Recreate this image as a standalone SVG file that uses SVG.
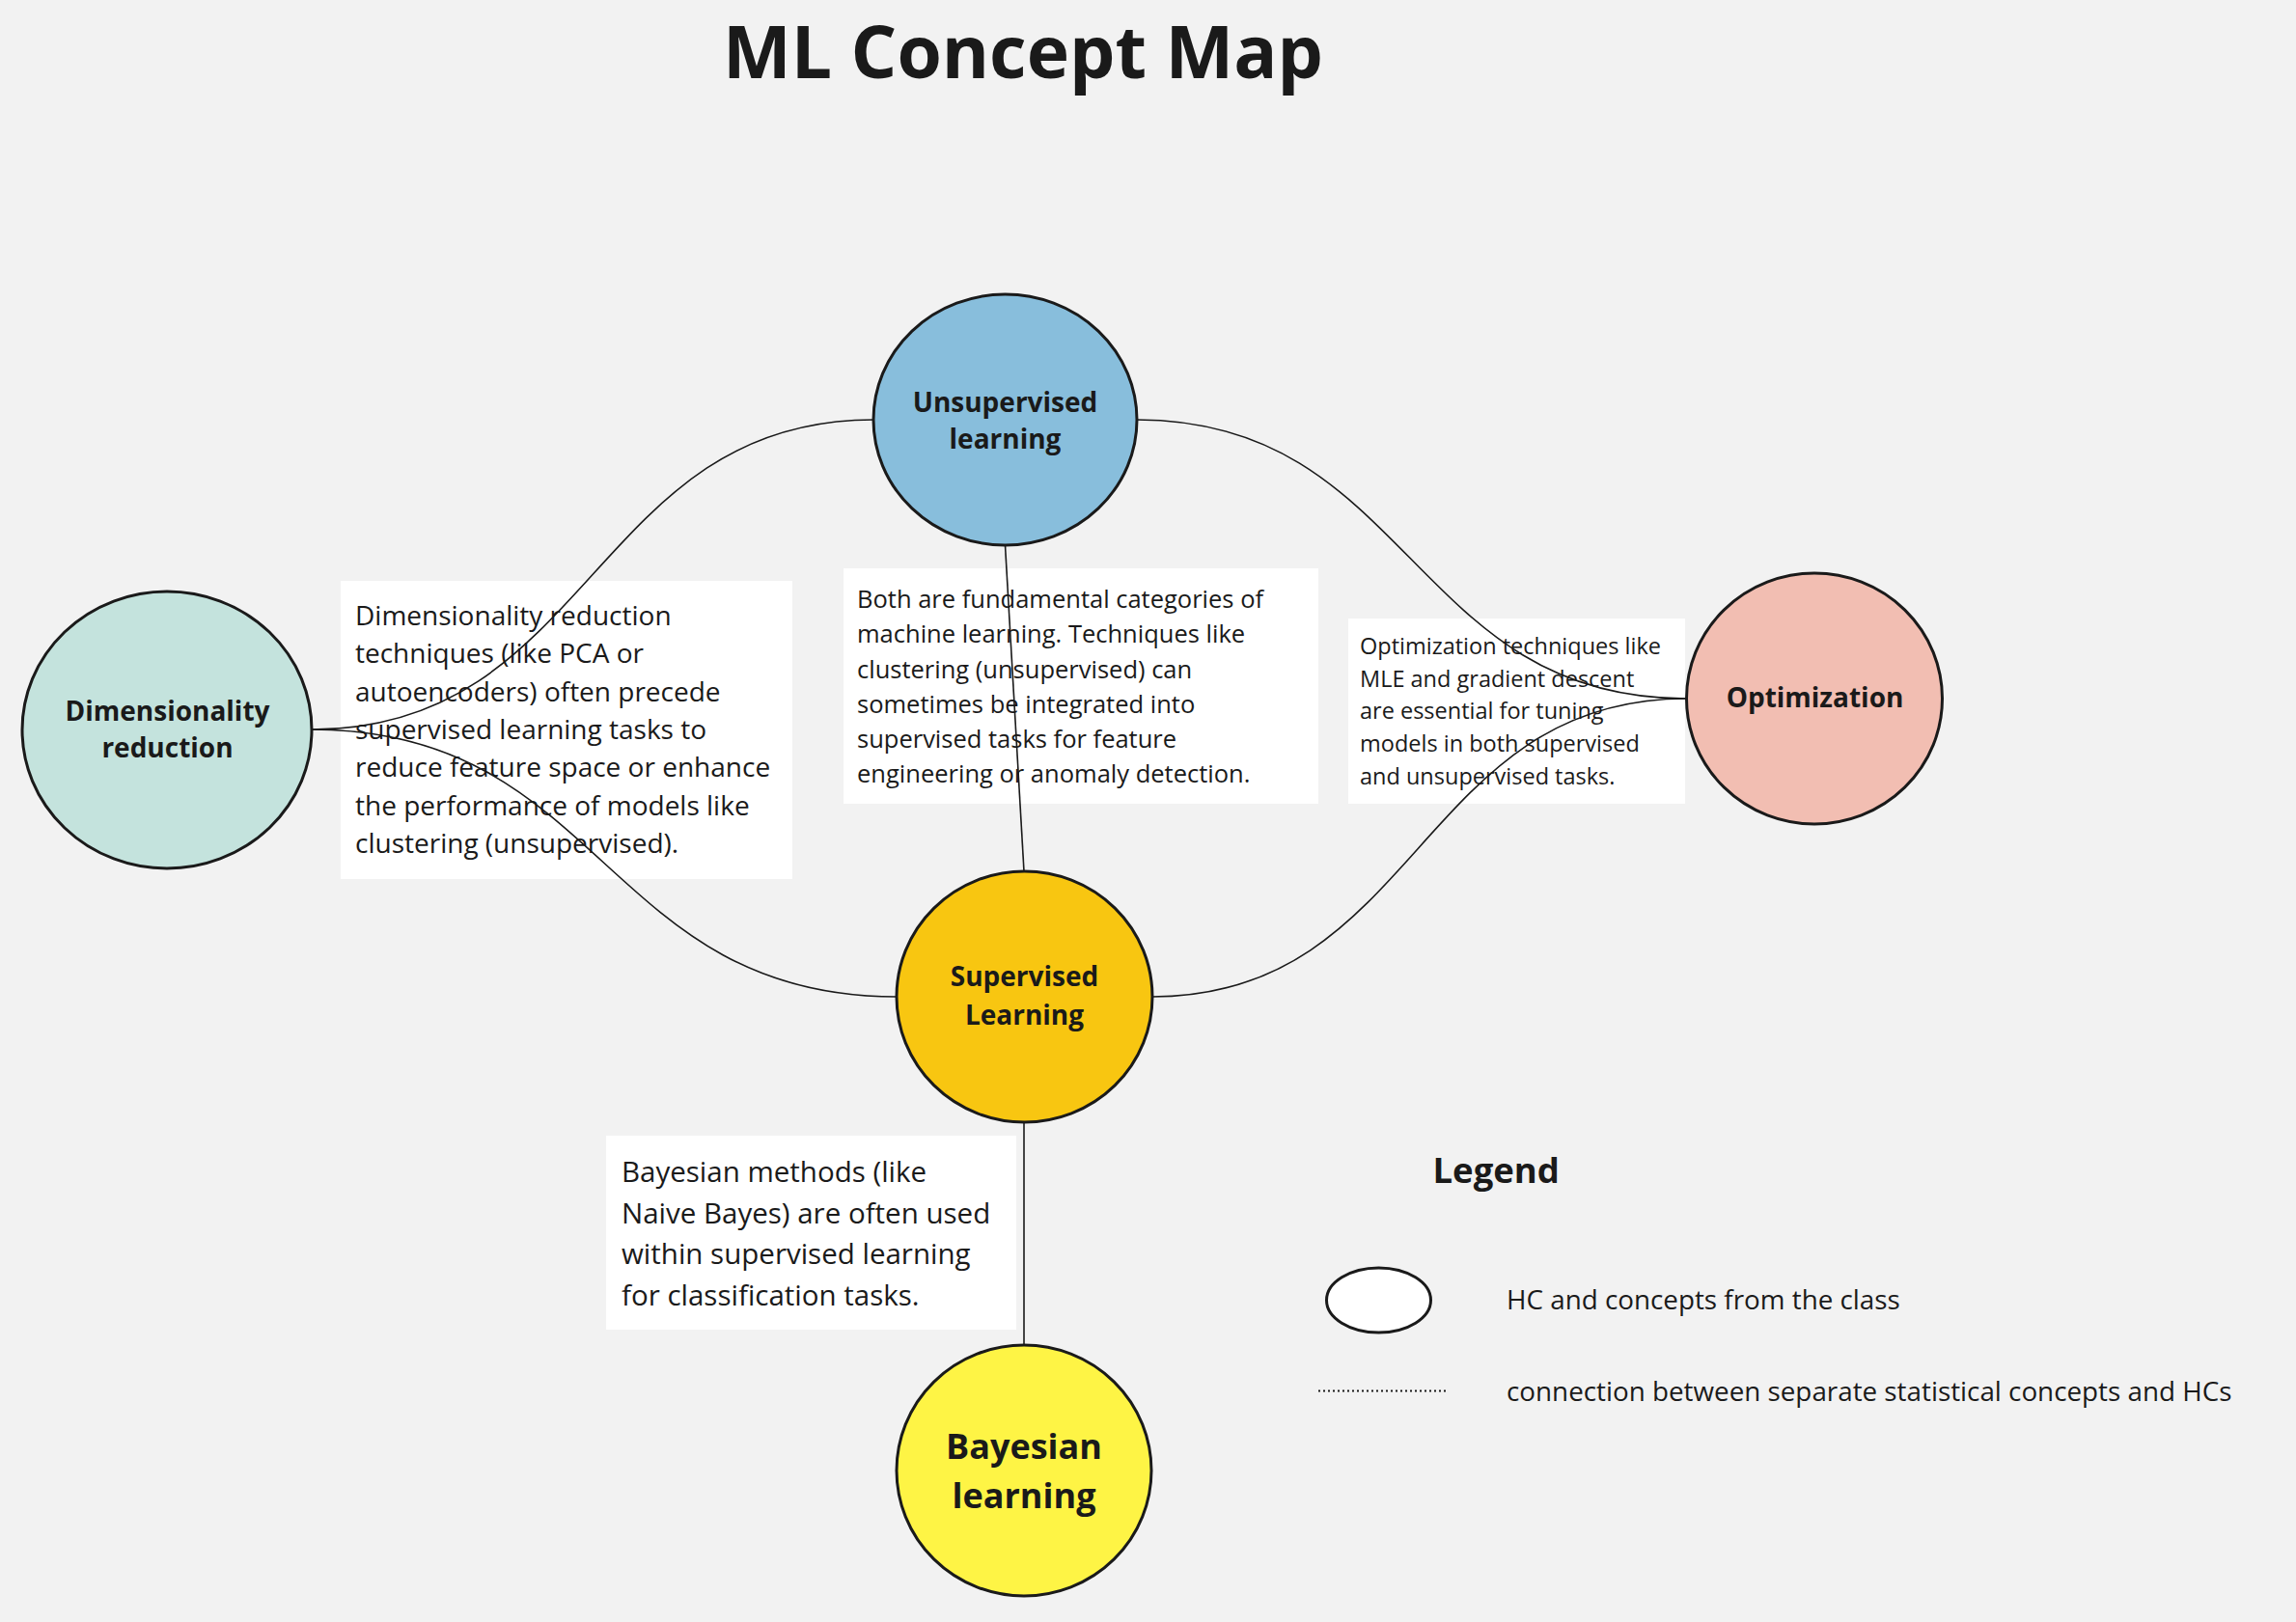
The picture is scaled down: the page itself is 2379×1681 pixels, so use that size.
<svg xmlns="http://www.w3.org/2000/svg" width="2379" height="1681" viewBox="0 0 2379 1681">
<style>
text{font-family:"Open Sans","Noto Sans","Liberation Sans",sans-serif;fill:#1a1a1a}
.title{font-size:75px;font-weight:700;text-anchor:middle}
.lbl{font-size:28px;font-weight:700;text-anchor:middle}
.big{font-size:36px}
.node{stroke:#1a1a1a;stroke-width:3}
.box{fill:#ffffff}
.conn{fill:none;stroke:#1a1a1a;stroke-width:1.6}
</style>
<rect x="0" y="0" width="2379" height="1681" fill="#f2f2f2"/>
<text class="title" x="1060" y="81">ML Concept Map</text>

<g id="notes">
<g id="note-dim">
<rect class="box" x="353" y="602" width="468" height="309"/>
<text font-size="28" x="368" y="648">Dimensionality reduction</text>
<text font-size="28" x="368" y="687.3">techniques (like PCA or</text>
<text font-size="28" x="368" y="726.7">autoencoders) often precede</text>
<text font-size="28" x="368" y="766">supervised learning tasks to</text>
<text font-size="28" x="368" y="805">reduce feature space or enhance</text>
<text font-size="28" x="368" y="845">the performance of models like</text>
<text font-size="28" x="368" y="884">clustering (unsupervised).</text>
</g>
<g id="note-both">
<rect class="box" x="874" y="589" width="492" height="244"/>
<text font-size="25.5" x="888" y="630">Both are fundamental categories of</text>
<text font-size="25.5" x="888" y="666">machine learning. Techniques like</text>
<text font-size="25.5" x="888" y="702.5">clustering (unsupervised) can</text>
<text font-size="25.5" x="888" y="738.5">sometimes be integrated into</text>
<text font-size="25.5" x="888" y="775">supervised tasks for feature</text>
<text font-size="25.5" x="888" y="810.5">engineering or anomaly detection.</text>
</g>
<g id="note-opt">
<rect class="box" x="1397" y="641" width="349" height="192"/>
<text font-size="23.5" x="1409" y="678.3">Optimization techniques like</text>
<text font-size="23.5" x="1409" y="711.7">MLE and gradient descent</text>
<text font-size="23.5" x="1409" y="745">are essential for tuning</text>
<text font-size="23.5" x="1409" y="779.3">models in both supervised</text>
<text font-size="23.5" x="1409" y="812.7">and unsupervised tasks.</text>
</g>
<g id="note-bayes">
<rect class="box" x="628" y="1177" width="425" height="201"/>
<text font-size="29.5" x="644" y="1225">Bayesian methods (like</text>
<text font-size="29.5" x="644" y="1268.3">Naive Bayes) are often used</text>
<text font-size="29.5" x="644" y="1310">within supervised learning</text>
<text font-size="29.5" x="644" y="1353.3">for classification tasks.</text>
</g>
</g>

<g id="connectors">
<path class="conn" d="M323 756 C614 756 614 435 905 435"/>
<path class="conn" d="M323 756 C626 756 626 1033 929 1033"/>
<path class="conn" d="M1178 435 C1462 435 1462 724 1747 724"/>
<path class="conn" d="M1194 1033 C1470 1033 1470 724 1747 724"/>
<path class="conn" d="M1041.5 565 L1061 903"/>
<path class="conn" d="M1061 1163 L1061 1394"/>
</g>

<g id="node-unsupervised">
<ellipse class="node" cx="1041.5" cy="435" rx="136.5" ry="130" fill="#88bedc"/>
<text class="lbl" x="1041.5" y="427">Unsupervised</text>
<text class="lbl" x="1041.5" y="465">learning</text>
</g>
<g id="node-supervised">
<ellipse class="node" cx="1061.5" cy="1033" rx="132.5" ry="130" fill="#f8c611"/>
<text class="lbl" x="1061.5" y="1022">Supervised</text>
<text class="lbl" x="1061.5" y="1062">Learning</text>
</g>
<g id="node-bayesian">
<ellipse class="node" cx="1061" cy="1524" rx="132" ry="130" fill="#fef445"/>
<text class="lbl big" x="1061" y="1512">Bayesian</text>
<text class="lbl big" x="1061" y="1563">learning</text>
</g>
<g id="node-dimensionality">
<ellipse class="node" cx="173" cy="756.5" rx="150" ry="143.5" fill="#c4e3dd"/>
<text class="lbl" x="173.5" y="747">Dimensionality</text>
<text class="lbl" x="173.5" y="785">reduction</text>
</g>
<g id="node-optimization">
<ellipse class="node" cx="1880" cy="724" rx="132.5" ry="130" fill="#f2beb2"/>
<text class="lbl" x="1880.5" y="733">Optimization</text>
</g>

<g id="legend">
<text x="1484.5" y="1226" font-size="36.5" font-weight="700">Legend</text>
<ellipse cx="1428.5" cy="1347.5" rx="54" ry="33.5" fill="#ffffff" stroke="#1a1a1a" stroke-width="3"/>
<text x="1561" y="1357" font-size="27.8">HC and concepts from the class</text>
<line x1="1366" y1="1441.5" x2="1498" y2="1441.5" stroke="#1a1a1a" stroke-width="2" stroke-dasharray="2 3"/>
<text x="1561" y="1452" font-size="27.8">connection between separate statistical concepts and HCs</text>
</g>
</svg>
